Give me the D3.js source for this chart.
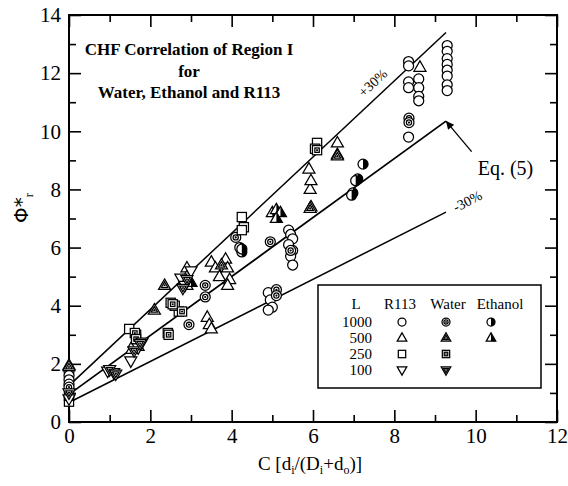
<!DOCTYPE html>
<html><head><meta charset="utf-8">
<script src="https://cdn.jsdelivr.net/npm/d3@7"></script>
<style>body{margin:0;background:#fff}svg{display:block}</style>
</head><body>
<svg id="c" width="568" height="486"></svg>
<script>
// ---- data (C, Phi*r) ----
const r113_1000 = [[0,1.75],[0,1.6],[0,1.45],[0,1.3],[4.9,4.45],[4.95,4.2],[5.0,3.95],[4.9,3.85],
  [5.4,6.6],[5.45,6.45],[5.5,6.3],[5.4,6.1],[5.5,5.9],[5.45,5.7],[5.5,5.4],
  [8.35,12.4],[8.35,12.25],[8.35,11.7],[8.35,11.5],[8.35,9.8],
  [8.6,11.8],[8.6,11.5],[8.6,11.2],[8.6,11.05],
  [9.3,12.95],[9.3,12.75],[9.3,12.5],[9.3,12.3],[9.3,12.1],[9.3,11.9],[9.3,11.6],[9.3,11.4]];
const water_1000 = [[2.95,3.35],[3.35,4.7],[3.35,4.3],[4.95,6.2],[5.45,5.9],[5.1,4.55],[5.1,4.35],
  [8.36,10.45],[8.36,10.3],[4.1,6.35],[0,1.2]];
const ethanol_1000 = [[7.23,8.87],[7.1,8.36],[7.05,8.3],[6.98,7.88],[6.95,7.8],[4.25,5.85],[4.2,6.0],[4.25,5.95]];
const r113_500 = [[0,1.95],[2.9,5.3],[2.9,5.0],[2.9,4.7],[3.4,3.6],[3.45,3.35],[3.5,3.2],
  [3.5,5.5],[3.6,5.3],[3.7,5.0],[3.85,5.6],[3.9,5.3],[3.95,4.9],[3.9,4.7],
  [5.95,7.4],[5.93,8.0],[5.95,8.3],[5.9,8.7],[6.6,9.2],[6.6,9.6],[8.63,12.2],[1.55,2.5],[1.6,2.7]];
const water_500 = [[2.1,3.85],[2.35,4.7],[3.75,5.4],[5.93,7.35],[6.6,9.15],[0,1.9],[1.7,2.6]];
const ethanol_500 = [[5.0,7.2],[5.1,7.3],[5.2,7.2],[5.1,7.0],[3.0,4.8]];
const r113_250 = [[1.48,3.2],[2.43,3.06],[2.5,4.1],[2.7,3.8],[2.6,4.0],[4.25,7.05],[4.3,6.7],[4.25,6.6],
  [6.1,9.6],[6.05,9.4],[0,0.7],[1.65,3.0]];
const water_250 = [[1.62,3.06],[2.78,3.8],[2.55,4.05],[1.65,2.85],[6.1,9.35],[0,0.9],[2.45,3.0]];
const r113_100 = [[0,0.8],[0.95,1.75],[1.1,1.7],[1.52,2.1],[1.7,2.55],[1.8,2.75],[2.75,4.95],[2.85,4.7],[3.0,5.2]];
const water_100 = [[0,1.0],[1.0,1.8],[1.15,1.65],[1.6,2.45],[1.75,2.7],[2.9,4.9],[2.8,4.6]];

const eq5 = [[0,0.95],[9.27,10.35]];
const plus30 = [[0,1.25],[9.27,13.4]];
const minus30 = [[0,0.67],[9.27,7.22]];

const xMajor = [0,2,4,6,8,10,12], xMinor = [1,3,5,7,9,11];
const yMajor = [0,2,4,6,8,10,12,14], yMinor = [1,3,5,7,9,11,13];
const legendL = ["1000","500","250","100"];
const legendCols = ["R113","Water","Ethanol"];
const titleLines = ["CHF Correlation of Region I","for","Water, Ethanol and R113"];

// ---- chart ----
const svg = d3.select("#c");
const x = d3.scaleLinear().domain([0,12]).range([69,557]);
const y = d3.scaleLinear().domain([0,14]).range([422,15]);
const serif = "Liberation Serif, Times New Roman, serif";

function axisG(axis, tx, ty){
  const g = svg.append("g").attr("transform",`translate(${tx},${ty})`).call(axis);
  g.attr("font-family",serif).attr("font-size",21);
  g.select(".domain").remove();
  g.selectAll("line").attr("stroke","#000").attr("stroke-width",1.6);
  g.selectAll("text").attr("fill","#000");
  return g;
}
axisG(d3.axisBottom(x).tickValues(xMajor).tickSizeInner(-12).tickSizeOuter(0).tickPadding(6).tickFormat(d3.format("d")),0,422);
axisG(d3.axisBottom(x).tickValues(xMinor).tickSizeInner(-7).tickSizeOuter(0).tickFormat(""),0,422);
axisG(d3.axisTop(x).tickValues(xMajor).tickSizeInner(-12).tickSizeOuter(0).tickFormat(""),0,15);
axisG(d3.axisTop(x).tickValues(xMinor).tickSizeInner(-7).tickSizeOuter(0).tickFormat(""),0,15);
axisG(d3.axisLeft(y).tickValues(yMajor).tickSizeInner(-12).tickSizeOuter(0).tickPadding(8).tickFormat(d3.format("d")),69,0);
axisG(d3.axisLeft(y).tickValues(yMinor).tickSizeInner(-7).tickSizeOuter(0).tickFormat(""),69,0);
axisG(d3.axisRight(y).tickValues(yMajor).tickSizeInner(-12).tickSizeOuter(0).tickFormat(""),557,0);
axisG(d3.axisRight(y).tickValues(yMinor).tickSizeInner(-7).tickSizeOuter(0).tickFormat(""),557,0);

svg.append("rect").attr("x",x(0)).attr("y",y(14)).attr("width",x(12)-x(0)).attr("height",y(0)-y(14))
  .attr("fill","none").attr("stroke","#000").attr("stroke-width",2);

// correlation lines
const line = d3.line().x(d=>x(d[0])).y(d=>y(d[1]));
[[eq5,1.8],[plus30,1.5],[minus30,1.5]].forEach(([d,w])=>{
  svg.append("path").attr("d",line(d)).attr("fill","none").attr("stroke","#000").attr("stroke-width",w);
});

// symbols
const SW = 1.25;
function tri(s, up){ const h=s*0.87; return up?`M0,${-h*0.62}L${s/2},${h*0.38}L${-s/2},${h*0.38}Z`:`M0,${h*0.62}L${s/2},${-h*0.38}L${-s/2},${-h*0.38}Z`; }
function drawSym(g, type, sc){
  sc = sc||1;
  const st = (e)=>e.attr("stroke","#000").attr("stroke-width",SW);
  if(type==="circle"){ st(g.append("circle").attr("r",5*sc).attr("fill","#fff")); }
  else if(type==="bull"){ st(g.append("circle").attr("r",5*sc).attr("fill","#fff")); st(g.append("circle").attr("r",2.6*sc).attr("fill","#fff")); g.append("circle").attr("r",1.1*sc).attr("fill","#000"); }
  else if(type==="halfc"){ st(g.append("circle").attr("r",5*sc).attr("fill","#fff")); const r=5*sc; g.append("path").attr("d",`M0,${-r}A${r},${r} 0 0 1 0,${r}Z`).attr("fill","#000"); }
  else if(type==="tri"){ st(g.append("path").attr("d",tri(12*sc,true)).attr("fill","#fff")); }
  else if(type==="ntri"){ st(g.append("path").attr("d",tri(12*sc,true)).attr("fill","#fff")); st(g.append("path").attr("d",tri(6.5*sc,true)).attr("fill","#fff")); g.append("path").attr("d",tri(2.8*sc,true)).attr("fill","#000"); }
  else if(type==="htri"){ const s=12*sc,h=s*0.87; st(g.append("path").attr("d",tri(s,true)).attr("fill","#fff")); g.append("path").attr("d",`M0,${-h*0.62}L${s/2},${h*0.38}L0,${h*0.38}Z`).attr("fill","#000"); }
  else if(type==="sq"){ st(g.append("rect").attr("x",-4.6*sc).attr("y",-4.6*sc).attr("width",9.2*sc).attr("height",9.2*sc).attr("fill","#fff")); }
  else if(type==="nsq"){ st(g.append("rect").attr("x",-4.6*sc).attr("y",-4.6*sc).attr("width",9.2*sc).attr("height",9.2*sc).attr("fill","#fff")); st(g.append("rect").attr("x",-2.2*sc).attr("y",-2.2*sc).attr("width",4.4*sc).attr("height",4.4*sc).attr("fill","#fff")); g.append("rect").attr("x",-0.9*sc).attr("y",-0.9*sc).attr("width",1.8*sc).attr("height",1.8*sc).attr("fill","#000"); }
  else if(type==="dtri"){ st(g.append("path").attr("d",tri(12*sc,false)).attr("fill","#fff")); }
  else if(type==="ndtri"){ st(g.append("path").attr("d",tri(12*sc,false)).attr("fill","#fff")); st(g.append("path").attr("d",tri(6.5*sc,false)).attr("fill","#fff")); g.append("path").attr("d",tri(2.8*sc,false)).attr("fill","#000"); }
}
const seriesList = [
  [r113_1000,"circle"],[water_1000,"bull"],[ethanol_1000,"halfc"],
  [r113_500,"tri"],[water_500,"ntri"],[ethanol_500,"htri"],
  [r113_250,"sq"],[water_250,"nsq"],[r113_100,"dtri"],[water_100,"ndtri"]
];
const pts = svg.append("g");
seriesList.forEach(([data,type])=>{
  data.forEach(d=>{ drawSym(pts.append("g").attr("transform",`translate(${x(d[0])},${y(d[1])})`), type); });
});

// labels on lines
const ang = (d)=>Math.atan2(y(d[1][1])-y(d[0][1]), x(d[1][0])-x(d[0][0]))*180/Math.PI;
svg.append("text").attr("transform",`translate(${x(7.55)},${y(11.55)}) rotate(${ang(plus30)})`)
  .attr("text-anchor","middle").attr("font-family",serif).attr("font-size",14).text("+30%");
svg.append("text").attr("transform",`translate(${x(9.85)},${y(7.45)}) rotate(${ang(minus30)})`)
  .attr("text-anchor","middle").attr("font-family",serif).attr("font-size",14).text("-30%");

// Eq. (5) arrow
const tip = eq5[1];
svg.append("defs").append("marker").attr("id","ah").attr("viewBox","0 0 10 10").attr("refX",10).attr("refY",5)
  .attr("markerWidth",12).attr("markerHeight",8).attr("markerUnits","userSpaceOnUse").attr("orient","auto")
  .append("path").attr("d","M0,0L10,5L0,10Z").attr("fill","#000");
svg.append("line").attr("x1",x(9.9)).attr("y1",y(9.3)).attr("x2",x(tip[0])).attr("y2",y(tip[1]))
  .attr("stroke","#000").attr("stroke-width",1.3).attr("marker-end","url(#ah)");
svg.append("text").attr("x",x(10.05)).attr("y",y(8.5)).attr("font-family",serif).attr("font-size",20).text("Eq. (5)");

// title
const tg = svg.append("g").attr("font-family",serif).attr("font-weight","bold").attr("font-size",17).attr("text-anchor","middle");
titleLines.forEach((t,i)=>{
  tg.append("text").attr("x",189).attr("y",55+i*21.5).text(t);
});

// axis titles
const xl = svg.append("text").attr("x",310).attr("y",470).attr("text-anchor","middle").attr("font-family",serif).attr("font-size",19);
xl.append("tspan").text("C [d");
xl.append("tspan").attr("font-size",12).attr("dy",4).text("i");
xl.append("tspan").attr("dy",-4).text("/(D");
xl.append("tspan").attr("font-size",12).attr("dy",4).text("i");
xl.append("tspan").attr("dy",-4).text("+d");
xl.append("tspan").attr("font-size",12).attr("dy",4).text("o");
xl.append("tspan").attr("dy",-4).text(")]");

const yl = svg.append("text").attr("transform","translate(28,208) rotate(-90)").attr("text-anchor","middle").attr("font-family","DejaVu Sans, sans-serif").attr("font-size",20);
yl.append("tspan").text("Φ*");
yl.append("tspan").attr("font-size",12).attr("dy",5).attr("font-family",serif).text("r");

// legend
const lg = svg.append("g");
lg.append("rect").attr("x",318).attr("y",285).attr("width",223).attr("height",103).attr("fill","#fff").attr("stroke","#000").attr("stroke-width",1.5);
const lf = (e)=>e.attr("font-family",serif).attr("font-size",15);
lf(lg.append("text").attr("x",356).attr("y",309).attr("text-anchor","middle").text("L"));
const colX = [402,446,491];
legendCols.forEach((c,i)=>lf(lg.append("text").attr("x",[400,448,500][i]).attr("y",309).attr("text-anchor","middle").text(c)));
const legendTypes = [["circle","bull","halfc"],["tri","ntri","htri"],["sq","nsq",null],["dtri","ndtri",null]];
legendL.forEach((l,r)=>{
  const yy = 322 + r*16;
  lf(lg.append("text").attr("x",372).attr("y",yy+5).attr("text-anchor","end").text(l));
  legendTypes[r].forEach((t,i)=>{ if(t) drawSym(lg.append("g").attr("transform",`translate(${colX[i]},${yy})`), t, 0.8); });
});
</script>
</body></html>
